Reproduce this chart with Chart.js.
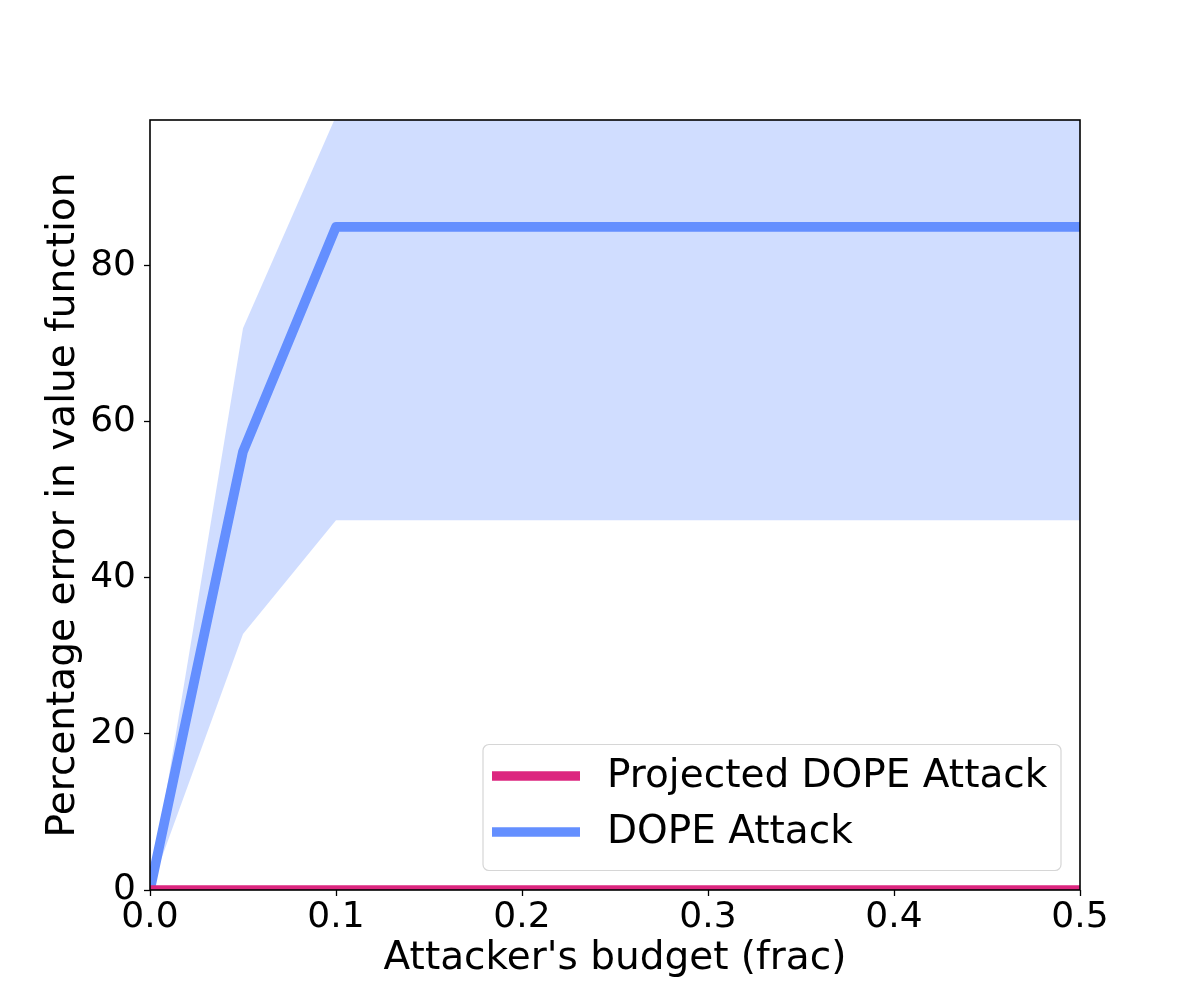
<!DOCTYPE html>
<html>
<head>
<meta charset="utf-8">
<script src="https://cdn.jsdelivr.net/npm/chart.js@4.4.1/dist/chart.umd.min.js"></script>
<style>
  html, body { margin: 0; padding: 0; background: #ffffff; }
  #wrap { width: 1200px; height: 1000px; }
</style>
</head>
<body>
<div id="wrap"><canvas id="c" width="1200" height="1000"></canvas></div>
<script>
// ---- data ----
const budgets = [0.0, 0.05, 0.10, 0.15, 0.20, 0.25, 0.30, 0.35, 0.40, 0.45, 0.50];
const dopeMean  = [0.0, 56.2, 85.0, 85.0, 85.0, 85.0, 85.0, 85.0, 85.0, 85.0, 85.0];
const dopeUpper = [0.0, 72.0, 99.2, 99.2, 99.2, 99.2, 99.2, 99.2, 99.2, 99.2, 99.2];
const dopeLower = [0.0, 32.8, 47.4, 47.4, 47.4, 47.4, 47.4, 47.4, 47.4, 47.4, 47.4];
const projectedMean = [0.0, 0.0, 0.0, 0.0, 0.0, 0.0, 0.0, 0.0, 0.0, 0.0, 0.0];
const xTicks = [0.0, 0.1, 0.2, 0.3, 0.4, 0.5];
const yTicks = [0, 20, 40, 60, 80];
const seriesNames = ['Projected DOPE Attack', 'DOPE Attack'];
const xTitle = "Attacker's budget (frac)";
const yTitle = 'Percentage error in value function';

const PINK = '#DC267F';
const BLUE = '#648FFF';
const BAND = 'rgba(100,143,255,0.30)';
const FONT = 'DejaVu Sans';

const pts = arr => budgets.map((b, i) => ({x: b, y: arr[i]}));

const framePlugin = {
  id: 'frame',
  afterDatasetsDraw(chart) {
    const {ctx, chartArea: a} = chart;
    ctx.save();
    ctx.strokeStyle = '#000';
    ctx.lineWidth = 1.6;
    ctx.strokeRect(a.left, a.top, a.right - a.left, a.bottom - a.top);
    ctx.restore();
  }
};

const legendPlugin = {
  id: 'mplLegend',
  afterDraw(chart) {
    const ctx = chart.ctx;
    const x0 = 483, y0 = 744.5, w = 578, h = 126, r = 6;
    ctx.save();
    ctx.beginPath();
    ctx.moveTo(x0 + r, y0);
    ctx.arcTo(x0 + w, y0, x0 + w, y0 + h, r);
    ctx.arcTo(x0 + w, y0 + h, x0, y0 + h, r);
    ctx.arcTo(x0, y0 + h, x0, y0, r);
    ctx.arcTo(x0, y0, x0 + w, y0, r);
    ctx.closePath();
    ctx.fillStyle = 'rgba(255,255,255,0.8)';
    ctx.fill();
    ctx.strokeStyle = '#d6d6d6';
    ctx.lineWidth = 1.2;
    ctx.stroke();
    const colors = [PINK, BLUE];
    const rows = [776, 832];
    ctx.font = '39px "' + FONT + '"';
    ctx.textBaseline = 'middle';
    ctx.textAlign = 'left';
    for (let i = 0; i < seriesNames.length; i++) {
      ctx.beginPath();
      ctx.strokeStyle = colors[i];
      ctx.lineWidth = 9.7;
      ctx.lineCap = 'butt';
      ctx.moveTo(492, rows[i]);
      ctx.lineTo(580, rows[i]);
      ctx.stroke();
      ctx.fillStyle = '#000';
      ctx.fillText(seriesNames[i], 607, rows[i] + 1);
    }
    ctx.restore();
  }
};

new Chart(document.getElementById('c'), {
  type: 'line',
  data: {
    datasets: [
      { label: 'upper', data: pts(dopeUpper), borderWidth: 0, borderColor: 'rgba(0,0,0,0)',
        backgroundColor: BAND, pointRadius: 0, fill: '+1', order: 5, clip: 0, tension: 0 },
      { label: 'lower', data: pts(dopeLower), borderWidth: 0, borderColor: 'rgba(0,0,0,0)',
        backgroundColor: BAND, pointRadius: 0, fill: false, order: 4, clip: 0, tension: 0 },
      { label: seriesNames[1], data: pts(dopeMean), borderColor: BLUE, borderWidth: 9.7,
        pointRadius: 0, fill: false, order: 2, clip: 0, tension: 0, borderJoinStyle: 'round', borderCapStyle: 'butt' },
      { label: seriesNames[0], data: pts(projectedMean), borderColor: PINK, borderWidth: 9.7,
        pointRadius: 0, fill: false, order: 1, clip: 0, tension: 0, borderCapStyle: 'butt' }
    ]
  },
  options: {
    responsive: false,
    animation: false,
    devicePixelRatio: 1,
    layout: { padding: { top: 120, right: 120, left: 0, bottom: 0 } },
    plugins: {
      legend: { display: false },
      tooltip: { enabled: false },
      filler: { propagate: false }
    },
    scales: {
      x: {
        type: 'linear', min: 0, max: 0.5,
        afterFit(s) { s.height = 110; },
        afterBuildTicks(s) { s.ticks = xTicks.map(v => ({value: v})); },
        border: { display: false },
        grid: { drawOnChartArea: false, tickLength: 6, tickColor: '#000', tickWidth: 1.3 },
        ticks: { color: '#000', font: { family: FONT, size: 36 }, padding: 0,
                 maxRotation: 0, autoSkip: false, callback: v => Number(v).toFixed(1) },
        title: { display: true, text: xTitle, color: '#000', font: { family: FONT, size: 39 },
                 padding: { top: 0, bottom: 18 } }
      },
      y: {
        type: 'linear', min: 0, max: 98.7,
        afterFit(s) { s.width = 150; },
        afterBuildTicks(s) { s.ticks = yTicks.map(v => ({value: v})); },
        border: { display: false },
        grid: { drawOnChartArea: false, tickLength: 6, tickColor: '#000', tickWidth: 1.3 },
        ticks: { color: '#000', font: { family: FONT, size: 36 }, padding: 8,
                 callback: v => String(v) },
        title: { display: true, text: yTitle, color: '#000', font: { family: FONT, size: 39 },
                 padding: { top: 40, bottom: 0 } }
      }
    }
  },
  plugins: [framePlugin, legendPlugin]
});
</script>
</body>
</html>
